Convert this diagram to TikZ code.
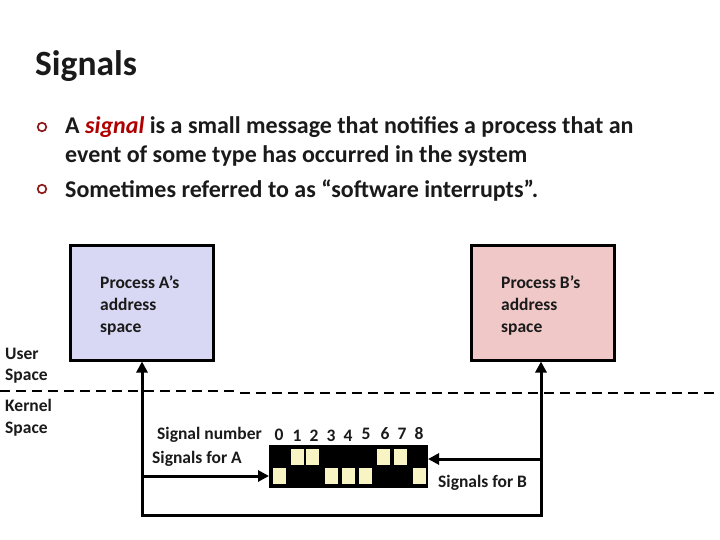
\documentclass[tikz,border=0pt]{standalone}
\usepackage{fontspec}
\setmainfont{Carlito}
\usetikzlibrary{arrows.meta}
\definecolor{txt}{HTML}{1A1A1A}
\definecolor{boxa}{HTML}{D8D8F4}
\definecolor{boxb}{HTML}{F0C8C8}
\definecolor{bulletred}{HTML}{8B1A1A}
\definecolor{sigred}{HTML}{B00000}
\definecolor{cellyel}{HTML}{F8F4C4}
\tikzset{
  lbl/.style={anchor=base west, inner sep=0pt, text=txt, font=\fontsize{17.5}{17.5}\selectfont\bfseries},
  dig/.style={lbl, anchor=base},
  btext/.style={anchor=base west, inner sep=0pt, text=txt, font=\fontsize{24}{24}\selectfont\bfseries},
  spacebox/.style={draw=black, line width=2.5pt, minimum width=143pt, minimum height=115pt, inner sep=0pt, anchor=north west},
  conn/.style={draw=black, line width=3pt},
  arr/.style={conn, -{Triangle[length=11pt,width=11pt]}},
}
\begin{document}
\begin{tikzpicture}[x=1pt,y=-1pt]
\useasboundingbox (0,0) rectangle (720,540);
\fill[white] (0,0) rectangle (720,540);
% title
\node[anchor=base west, inner sep=0pt, text=txt, font=\fontsize{35.5}{35.5}\selectfont\bfseries] (title) at (35,76) {Signals};
% bullets
\draw[bulletred, line width=1.7pt] (42,127) circle (4.3);
\draw[bulletred, line width=1.7pt] (42,189) circle (4.3);
\node[btext] (b1) at (65,134) {A \textcolor{sigred}{\itshape signal} is a small message that notifies a process that an};
\node[btext] (b1b) at (65,163) {event of some type has occurred in the system};
\node[btext] (b2) at (65,197) {Sometimes referred to as “software interrupts”.};
% boxes
\node[spacebox, fill=boxa] (A) at (69,244) {};
\node[spacebox, fill=boxb] (B) at (470,244) {};
\node[lbl] (At1) at (100,288) {Process A’s};
\node[lbl] (At2) at (100,310) {address};
\node[lbl] (At3) at (100,332) {space};
\node[lbl] (Bt1) at (501,288) {Process B’s};
\node[lbl] (Bt2) at (501,310) {address};
\node[lbl] (Bt3) at (501,332) {space};
% user / kernel
\node[lbl] (u1) at (5,359) {User};
\node[lbl] (u2) at (5,380) {Space};
\node[lbl] (k1) at (5,411) {Kernel};
\node[lbl] (k2) at (5,433) {Space};
\draw[black, line width=2.5pt, dash pattern=on 10pt off 6pt] (0,391) -- (240,391);
\draw[black, line width=2.5pt, dash pattern=on 10pt off 6pt] (240,393) -- (720,393);
% bit array
\fill[black] (269,445) rectangle (428,488);
\foreach \x in {291,306,377,394} \fill[cellyel] (\x,449) rectangle ++(13,16);
\foreach \x in {273,325,342,359,413} \fill[cellyel] (\x,468) rectangle ++(13,16);
\coordinate (arrL) at (269,476);
\coordinate (arrR) at (428,459);
\node[lbl] (signum) at (157,439) {Signal number};
\foreach \d/\x/\y in {0/279/440,1/297/441,2/314/441,3/331/441,4/348/441,5/366/439,6/385/439,7/402/439,8/419/439}
  \node[dig] (d\d) at (\x,\y) {\d};
\node[lbl] (sa) at (152,463) {Signals for A};
\node[lbl] (sb) at (438,487) {Signals for B};
% connectors
\coordinate (aBot) at (142,515);
\coordinate (bBot) at (541,515);
\coordinate (aJoin) at (142,476);
\coordinate (bJoin) at (541,459);
\draw[arr] (aBot) -- (A.south -| aBot);
\draw[arr] (bBot) -- (B.south -| bBot);
\draw[conn, line cap=rect] (aBot) -- (bBot);
\draw[arr] (aJoin) -- (arrL);
\draw[arr] (bJoin) -- (arrR);
\end{tikzpicture}
\end{document}
